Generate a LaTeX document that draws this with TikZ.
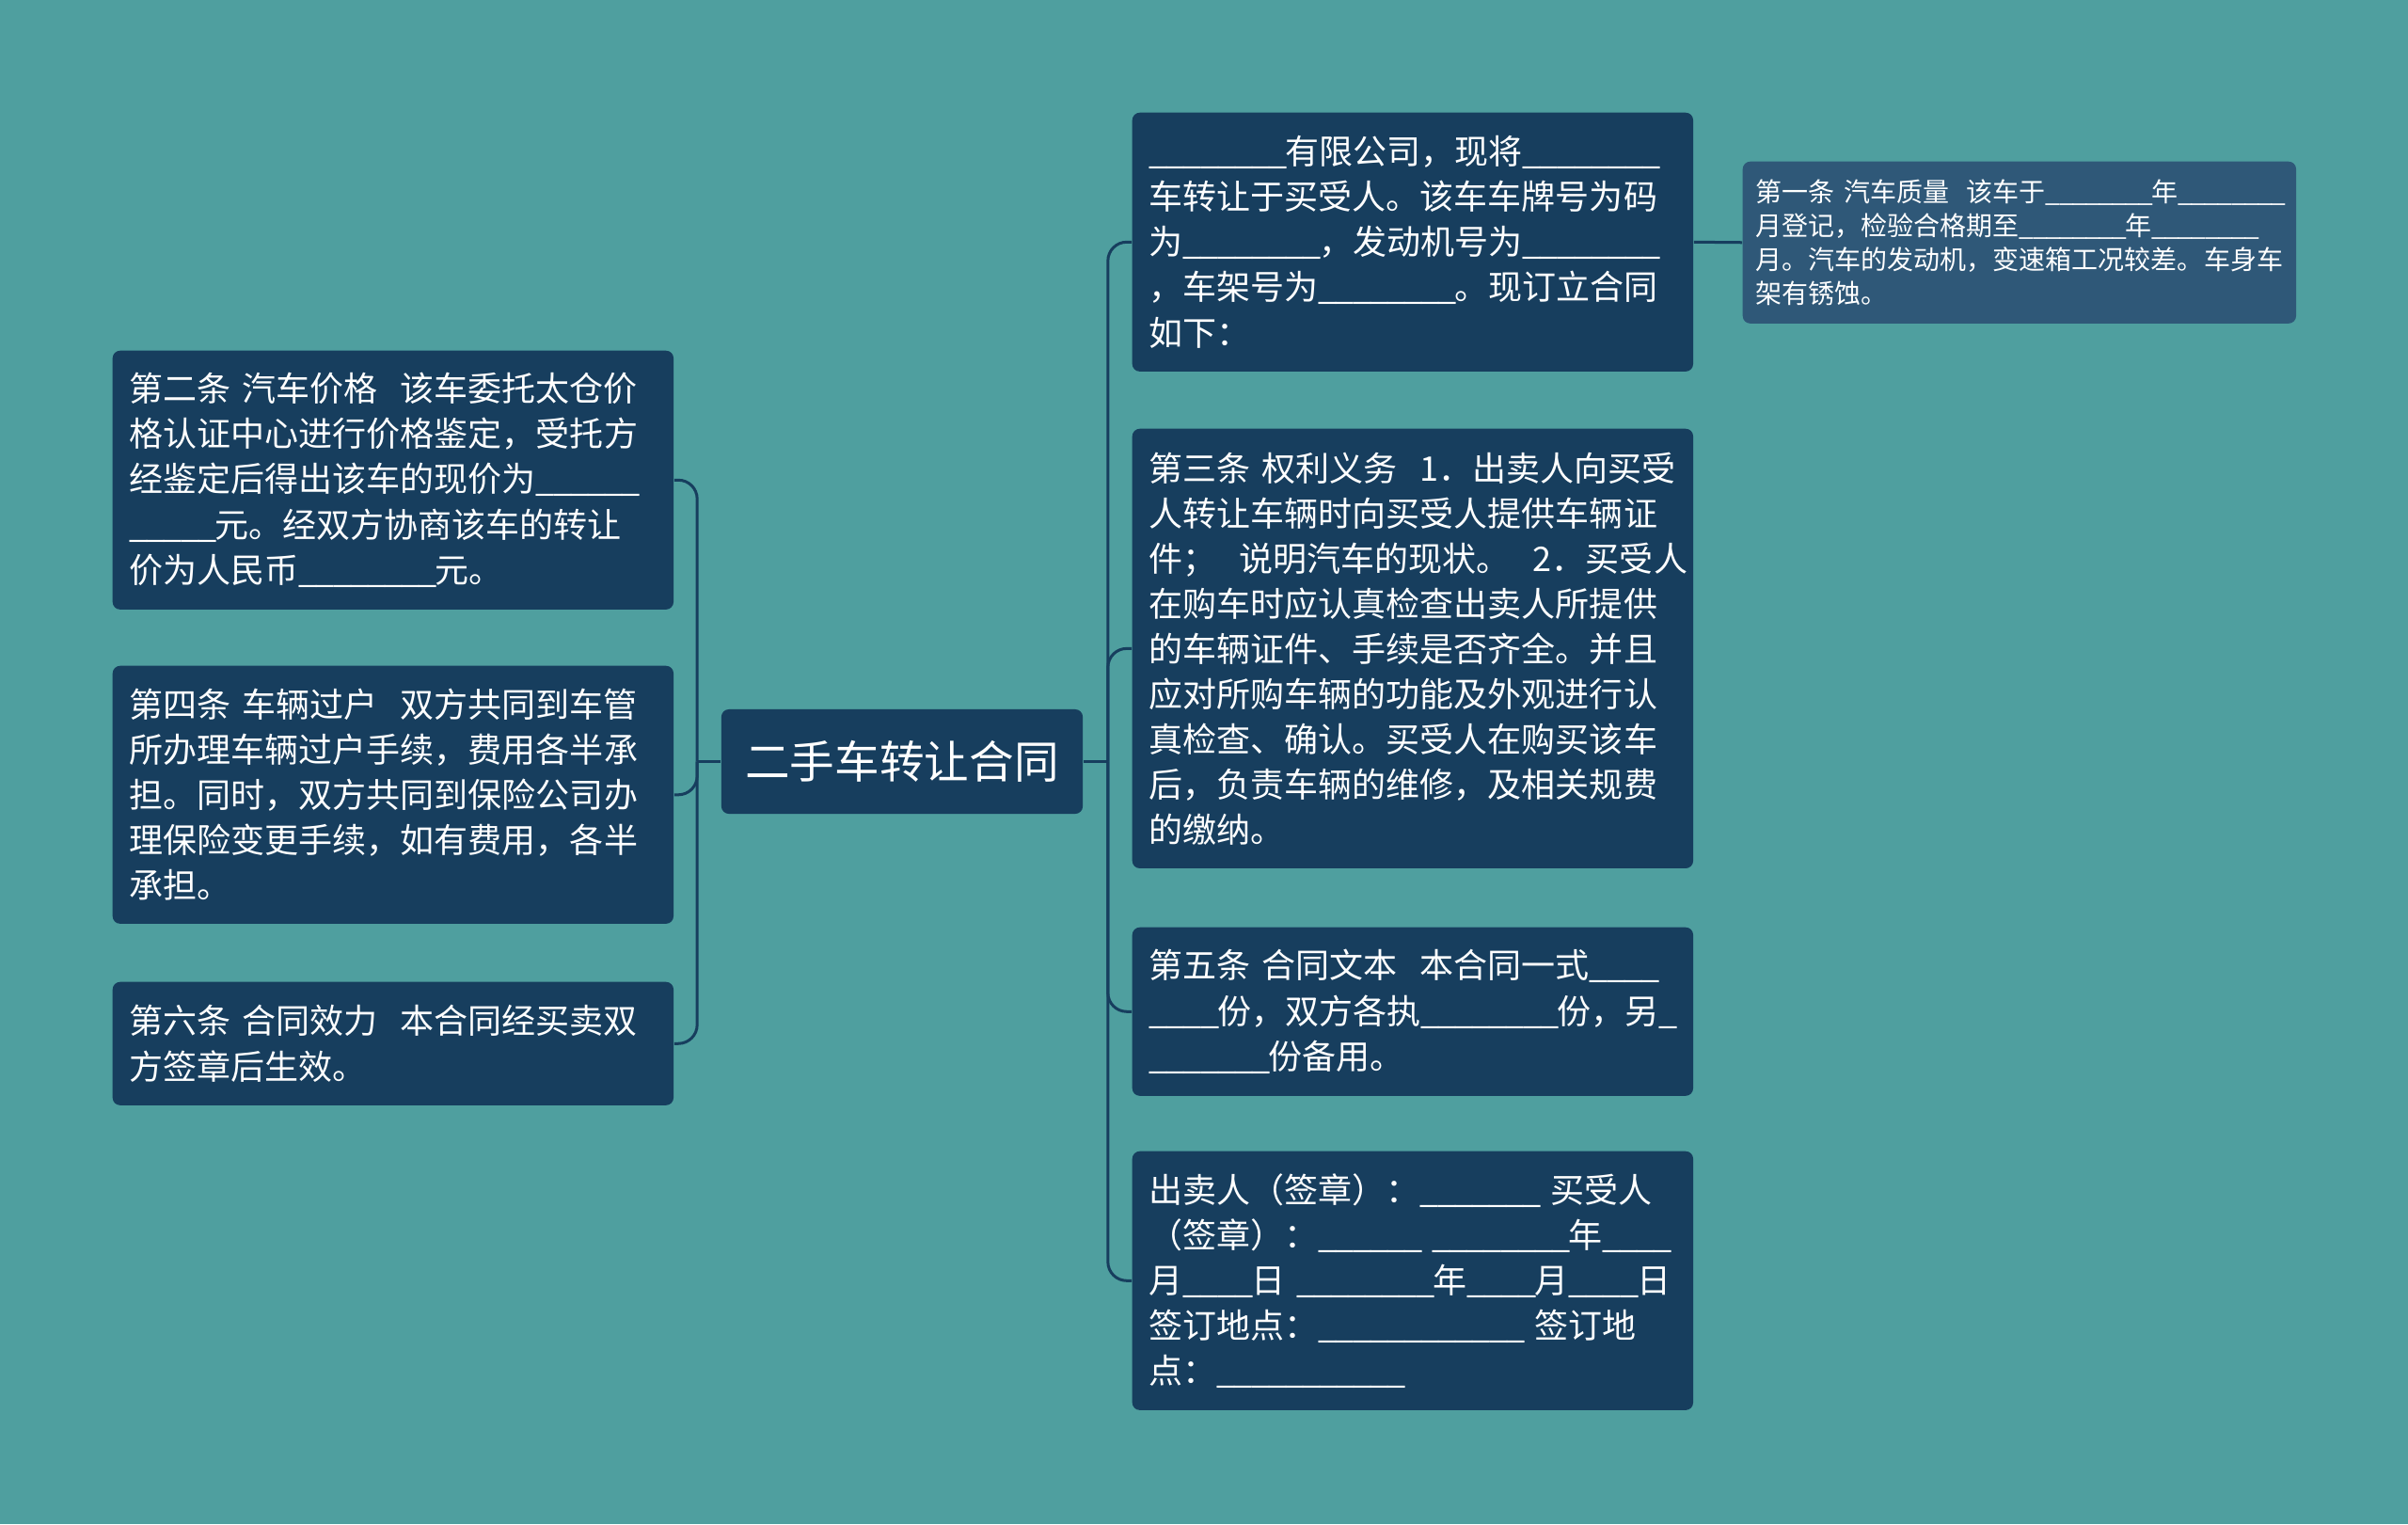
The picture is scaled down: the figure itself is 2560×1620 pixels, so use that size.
\documentclass[tikz,border=0pt]{standalone}
\usepackage{fontspec}
\setmainfont{Noto Sans CJK SC}

\definecolor{bgteal}{HTML}{4F9F9F}
\definecolor{boxnavy}{HTML}{173E5E}
\definecolor{boxslate}{HTML}{2F5878}

% blank to fill in
\newcommand{\fillin}[1]{\foreach \k in {1,...,#1}{\_\kern-0.056em}}

\begin{document}
\begin{tikzpicture}[x=0.01cm,y=-0.01cm,
  root/.style={fill=boxnavy,rounded corners=0.08cm,text=white,inner sep=0pt,
    minimum width=3.84cm,minimum height=1.11cm,font=\fontsize{0.476cm}{0.6cm}\selectfont},
  clause/.style={fill=boxnavy,rounded corners=0.08cm,text=white,anchor=north west,
    inner xsep=0.18cm,inner ysep=0pt,text width=5.6cm,minimum width=5.96cm,align=left,
    font=\fontsize{0.36cm}{0.48cm}\selectfont},
  note/.style={clause,fill=boxslate,inner xsep=0.14cm,text width=5.6cm,minimum width=5.88cm,
    font=\fontsize{0.28cm}{0.36cm}\selectfont},
  link/.style={draw=boxnavy,line width=0.03cm,rounded corners=0.2cm}]

% Background
\useasboundingbox (0,0) rectangle (2560,1620);
\fill[bgteal] (0,0) rectangle (2560,1620);

% Central topic
\node[root] (hub) at (959,809.5) {二手车转让合同};

% Right branch
\node[clause,minimum height=2.75cm] (intro) at (1203,119)
  {\fillin{8}有限公司，现将\fillin{8}\\
   车转让于买受人。该车车牌号为码\\
   为\fillin{8}，发动机号为\fillin{8}\\
   ，车架号为\fillin{8}。现订立合同\\
   如下：};
\node[clause,minimum height=4.67cm] (rights) at (1203,455)
  {第三条~权利义务~~1．出卖人向买受\\
   人转让车辆时向买受人提供车辆证\\
   件；~~说明汽车的现状。~~2．买受人\\
   在购车时应认真检查出卖人所提供\\
   的车辆证件、手续是否齐全。并且\\
   应对所购车辆的功能及外观进行认\\
   真检查、确认。买受人在购买该车\\
   后，负责车辆的维修，及相关规费\\
   的缴纳。};
\node[clause,minimum height=1.79cm] (copies) at (1203,985)
  {第五条~合同文本~~本合同一式\fillin{4}\\
   \fillin{4}份，双方各执\fillin{8}份，另\fillin{1}\\
   \fillin{7}份备用。};
\node[clause,minimum height=2.75cm] (signing) at (1203,1223)
  {出卖人（签章）：\fillin{7}~买受人\\
   （签章）：\fillin{6}~\fillin{8}年\fillin{4}\\
   月\fillin{4}日~\fillin{8}年\fillin{4}月\fillin{4}日\\
   签订地点：\fillin{12}~签订地\\
   点：\fillin{11}};

% Sub-topic of the intro
\node[note,minimum height=1.72cm] (quality) at (1852,171)
  {第一条~汽车质量~~该车于\fillin{8}年\fillin{8}\\
   月登记，检验合格期至\fillin{8}年\fillin{8}\\
   月。汽车的发动机，变速箱工况较差。车身车\\
   架有锈蚀。};

% Left branch
\node[clause,minimum height=2.75cm] (price) at (119,372)
  {第二条~汽车价格~~该车委托太仓价\\
   格认证中心进行价格鉴定，受托方\\
   经鉴定后得出该车的现价为\fillin{6}\\
   \fillin{5}元。经双方协商该车的转让\\
   价为人民币\fillin{8}元。};
\node[clause,minimum height=2.74cm] (transfer) at (119,707)
  {第四条~车辆过户~~双方共同到车管\\
   所办理车辆过户手续，费用各半承\\
   担。同时，双方共同到保险公司办\\
   理保险变更手续，如有费用，各半\\
   承担。};
\node[clause,minimum height=1.31cm] (validity) at (119,1043)
  {第六条~合同效力~~本合同经买卖双\\
   方签章后生效。};

% Connectors
\coordinate (rjoint) at ([xshift=0.26cm]hub.east);
\coordinate (ljoint) at ([xshift=-0.25cm]hub.west);
\draw[link] (hub.east) -- (rjoint);
\foreach \n in {intro,rights,copies,signing}
  \draw[link] (rjoint) |- (\n.west);
\draw[link] (hub.west) -- (ljoint);
\foreach \n in {price,transfer,validity}
  \draw[link] (ljoint) |- (\n.east);
\draw[link] (intro.east) -- (quality.west);

\end{tikzpicture}
\end{document}
